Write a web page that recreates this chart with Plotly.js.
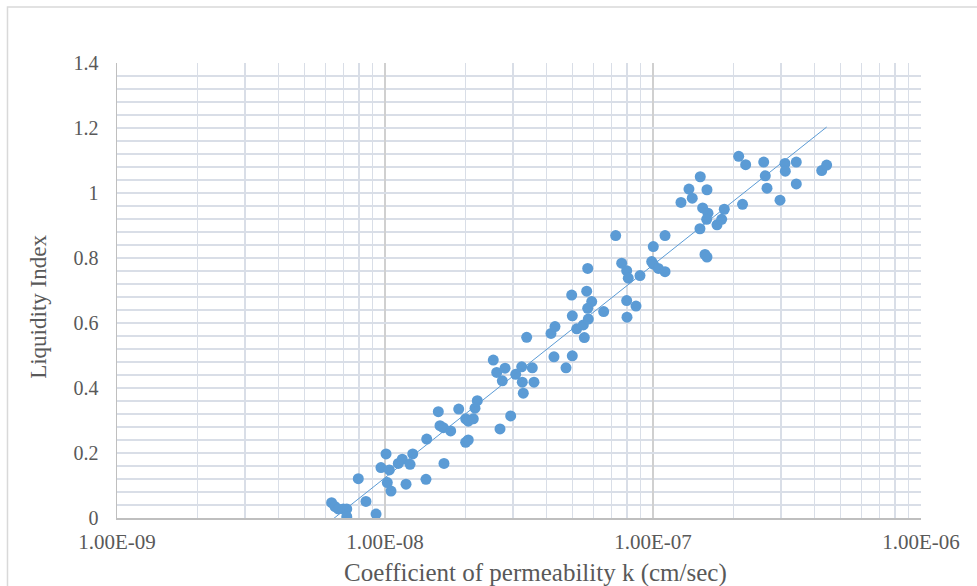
<!DOCTYPE html>
<html>
<head>
<meta charset="utf-8">
<script src="https://cdn.plot.ly/plotly-3.0.1.min.js"></script>
<style>html,body{margin:0;padding:0;background:#fff;}#chart{width:977px;height:586px;}</style>
</head>
<body>
<div id="chart"></div>
<script>
// Coefficient of permeability k (cm/sec)
const kValues = [
  6.32e-9, 6.51e-9, 6.69e-9, 6.99e-9, 7.20e-9, 7.20e-9, 7.95e-9, 8.49e-9, 9.26e-9, 9.66e-9,
  1.009e-8, 1.038e-8, 1.020e-8, 1.053e-8, 1.121e-8, 1.160e-8, 1.198e-8, 1.240e-8, 1.269e-8, 1.431e-8,
  1.422e-8, 1.581e-8, 1.604e-8, 1.650e-8, 1.758e-8, 1.660e-8, 1.884e-8, 2.000e-8, 2.045e-8, 2.135e-8,
  2.167e-8, 2.210e-8, 2.000e-8, 2.045e-8, 2.686e-8, 2.944e-8, 2.535e-8, 2.611e-8, 2.805e-8, 2.740e-8,
  3.074e-8, 3.236e-8, 3.253e-8, 3.545e-8, 3.597e-8, 3.281e-8, 3.378e-8, 4.163e-8, 4.308e-8, 4.271e-8,
  4.736e-8, 4.999e-8, 4.973e-8, 5.000e-8, 5.192e-8, 5.495e-8, 5.543e-8, 5.736e-8, 5.706e-8, 5.657e-8,
  5.906e-8, 5.706e-8, 6.546e-8, 7.257e-8, 7.641e-8, 7.977e-8, 8.086e-8, 7.977e-8, 7.998e-8, 8.642e-8,
  8.943e-8, 9.888e-8, 1.0025e-7, 1.0025e-7, 1.047e-7, 1.109e-7, 1.109e-7, 1.272e-7, 1.362e-7, 1.401e-7,
  1.501e-7, 1.497e-7, 1.532e-7, 1.590e-7, 1.604e-7, 1.586e-7, 1.733e-7, 1.804e-7, 1.845e-7, 1.563e-7,
  1.590e-7, 2.088e-7, 2.217e-7, 2.158e-7, 2.589e-7, 2.624e-7, 2.663e-7, 2.978e-7, 3.108e-7, 3.117e-7,
  3.425e-7, 3.425e-7, 4.261e-7, 4.446e-7
];
// Liquidity Index
const liValues = [
  0.047, 0.035, 0.028, 0.028, 0.028, 0.004, 0.121, 0.051, 0.012, 0.155,
  0.197, 0.148, 0.109, 0.083, 0.168, 0.181, 0.104, 0.165, 0.197, 0.243,
  0.119, 0.327, 0.284, 0.278, 0.268, 0.168, 0.335, 0.305, 0.298, 0.305,
  0.338, 0.361, 0.233, 0.240, 0.274, 0.314, 0.486, 0.448, 0.461, 0.422,
  0.442, 0.465, 0.418, 0.462, 0.418, 0.384, 0.556, 0.568, 0.589, 0.496,
  0.462, 0.499, 0.686, 0.622, 0.582, 0.594, 0.555, 0.612, 0.768, 0.698,
  0.666, 0.645, 0.635, 0.869, 0.784, 0.761, 0.738, 0.669, 0.618, 0.652,
  0.746, 0.789, 0.781, 0.835, 0.768, 0.758, 0.869, 0.971, 1.012, 0.984,
  1.050, 0.890, 0.954, 1.010, 0.938, 0.919, 0.902, 0.919, 0.950, 0.811,
  0.803, 1.113, 1.087, 0.965, 1.095, 1.053, 1.015, 0.978, 1.091, 1.067,
  1.095, 1.028, 1.069, 1.086
];
const xTickVals = [1e-9, 1e-8, 1e-7, 1e-6];
const xTickText = ['1.00E-09', '1.00E-08', '1.00E-07', '1.00E-06'];
const xTitle = 'Coefficient of permeability k (cm/sec)';
const yTitle = 'Liquidity Index';

// Logarithmic trendline (least squares of LI on log10 k), spanning data range
const lx = kValues.map(v => Math.log10(v));
const n = lx.length;
const mx = lx.reduce((a, b) => a + b, 0) / n;
const my = liValues.reduce((a, b) => a + b, 0) / n;
let sxy = 0, sxx = 0;
for (let i = 0; i < n; i++) { sxy += (lx[i] - mx) * (liValues[i] - my); sxx += (lx[i] - mx) ** 2; }
const slope = sxy / sxx, icpt = my - slope * mx;
const lmin = Math.min(...lx), lmax = Math.max(...lx);
const trendX = [], trendY = [];
for (let i = 0; i <= 40; i++) {
  const l = lmin + (lmax - lmin) * i / 40;
  trendX.push(Math.pow(10, l));
  trendY.push(slope * l + icpt);
}

const minorX = [];
for (let d = -9; d < -6; d++) for (let m = 2; m <= 9; m++) minorX.push(m * Math.pow(10, d));

const fontFam = '"Liberation Serif", "Times New Roman", serif';
const textCol = '#595959';

const traces = [
  {
    x: kValues, y: liValues, type: 'scatter', mode: 'markers',
    marker: { color: '#5B9BD5', size: 11, line: { width: 0 } },
    hoverinfo: 'x+y', showlegend: false
  },
  {
    x: trendX, y: trendY, type: 'scatter', mode: 'lines',
    line: { color: '#5B9BD5', width: 1 },
    hoverinfo: 'skip', showlegend: false
  }
];

const layout = {
  width: 977, height: 586,
  margin: { l: 117, r: 56, t: 63, b: 68 },
  paper_bgcolor: '#ffffff', plot_bgcolor: '#ffffff',
  font: { family: fontFam, color: textCol, size: 19 },
  xaxis: {
    type: 'log', range: [-9, -6], autorange: false,
    tickmode: 'array', tickvals: xTickVals, ticktext: xTickText,
    showgrid: true, gridcolor: '#D0D0D0', gridwidth: 1.5,
    minor: { tickmode: 'array', tickvals: minorX, showgrid: true, gridcolor: '#D9DEE7', gridwidth: 1.5, ticks: '' },
    showline: true, linecolor: '#BFBFBF', linewidth: 1.5,
    ticks: '', zeroline: false, ticklabelstandoff: 4,
    tickfont: { family: fontFam, color: textCol, size: 21 }
  },
  yaxis: {
    range: [0, 1.4], autorange: false, dtick: 0.2, tick0: 0,
    showgrid: true, gridcolor: '#D9DEE7', gridwidth: 1.5,
    minor: { dtick: 0.04, showgrid: true, gridcolor: '#D9DEE7', gridwidth: 1.5, ticks: '' },
    showline: true, linecolor: '#BFBFBF', linewidth: 1.5,
    ticks: '', zeroline: false, ticklabelstandoff: 13,
    tickfont: { family: fontFam, color: textCol, size: 20 }
  },
  annotations: [
    { text: xTitle, xref: 'paper', yref: 'paper', x: 0.52, y: -0.121, xanchor: 'center', yanchor: 'middle',
      showarrow: false, font: { family: fontFam, color: textCol, size: 25 } },
    { text: yTitle, xref: 'paper', yref: 'paper', x: -0.0985, y: 0.4637, xanchor: 'center', yanchor: 'middle',
      textangle: -90, showarrow: false, font: { family: fontFam, color: textCol, size: 23 } }
  ],
  shapes: [
    { type: 'rect', xref: 'paper', yref: 'paper', x0: -0.1362, x1: 1.2, y0: -0.3, y1: 1.1231,
      line: { color: '#D9D9D9', width: 1.5 }, fillcolor: 'rgba(0,0,0,0)', layer: 'below' }
  ]
};

Plotly.newPlot('chart', traces, layout, { displayModeBar: false, staticPlot: true });
</script>
</body>
</html>
